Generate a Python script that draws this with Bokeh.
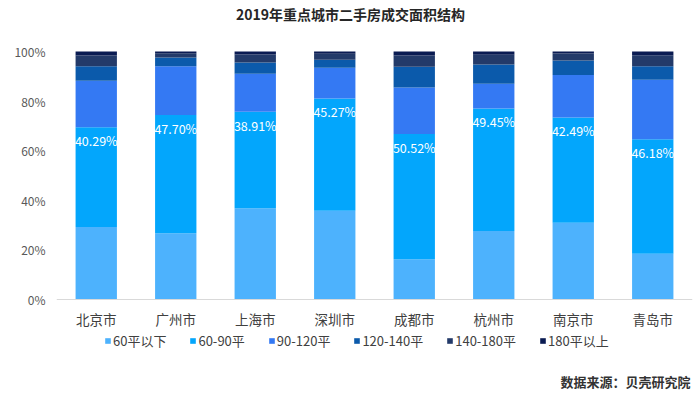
from bokeh.plotting import figure
from bokeh.models import (ColumnDataSource, FactorRange, Legend, LegendItem, Label,
                          FixedTicker, Range1d)
from bokeh.core.properties import value
from bokeh.embed import file_html
from bokeh.resources import INLINE

cities = ["北京市", "广州市", "上海市", "深圳市", "成都市", "杭州市", "南京市", "青岛市"]
series_names = ["60平以下", "60-90平", "90-120平", "120-140平", "140-180平", "180平以上"]
s_lt60 = [29.2, 26.7, 36.8, 35.8, 16.2, 27.6, 30.9, 18.4]
s_60_90 = [40.29, 47.70, 38.91, 45.27, 50.52, 49.45, 42.49, 46.18]
s_90_120 = [18.7, 19.7, 15.3, 12.4, 18.8, 9.9, 17.1, 24.0]
s_120_140 = [5.9, 3.5, 4.6, 3.2, 8.3, 7.8, 5.9, 5.5]
s_140_180 = [4.3, 1.7, 3.2, 2.4, 4.6, 3.9, 2.8, 4.4]
s_180_up = [1.6, 0.7, 1.2, 0.93, 1.58, 1.35, 0.81, 1.52]
label_texts = ["40.29%", "47.70%", "38.91%", "45.27%", "50.52%", "49.45%", "42.49%", "46.18%"]
y_ticks = [0, 20, 40, 60, 80, 100]
y_tick_labels = ["0%", "20%", "40%", "60%", "80%", "100%"]

colors = ["#4db2fd", "#03a6fc", "#3479f3", "#0b5aab", "#233a69", "#0a1b52"]
keys = ["s0", "s1", "s2", "s3", "s4", "s5"]
FONT = "Noto Sans CJK SC"

W, H = 700, 394
LEFT, RIGHT = 56, 8
Y0_PX, Y100_PX = 299, 51          # pixel rows of 0% and 100%
per_px = 100.0 / (Y0_PX - Y100_PX)

source = ColumnDataSource(dict(city=cities, s0=s_lt60, s1=s_60_90, s2=s_90_120,
                               s3=s_120_140, s4=s_140_180, s5=s_180_up))

p = figure(width=W, height=H, x_range=FactorRange(*cities),
           y_range=Range1d(-(H - Y0_PX) * per_px, 100 + Y100_PX * per_px),
           output_backend="svg", toolbar_location=None,
           min_border_left=LEFT, min_border_right=RIGHT, min_border_top=0, min_border_bottom=0)
p.outline_line_color = None
p.xgrid.visible = False
p.ygrid.visible = False

rs = p.vbar_stack(keys, x="city", width=0.52, color=colors, line_color=None, source=source)

# data labels for 60-90 segment
lbl_y = [a + b for a, b in zip(s_lt60, s_60_90)]
lsrc = ColumnDataSource(dict(x=cities, y=lbl_y, t=label_texts))
p.text(x="x", y="y", text="t", source=lsrc, text_color="white", text_align="center",
       text_baseline="top", y_offset=4, text_font=value(FONT), text_font_size="12.5px")

# axes
p.yaxis.ticker = FixedTicker(ticks=y_ticks)
p.yaxis.major_label_overrides = {t: l for t, l in zip(y_ticks, y_tick_labels)}
p.yaxis.axis_line_color = None
p.yaxis.major_tick_line_color = None
p.yaxis.minor_tick_line_color = None
p.yaxis.major_label_text_font = FONT
p.yaxis.major_label_text_font_size = "12px"
p.yaxis.major_label_text_color = "#595959"
p.yaxis.major_label_standoff = 5

p.xaxis.fixed_location = 0
p.xaxis.axis_line_color = "#d9d9d9"
p.xaxis.major_tick_line_color = None
p.xaxis.minor_tick_line_color = None
p.xaxis.major_label_text_font = FONT
p.xaxis.major_label_text_font_size = "13.5px"
p.xaxis.major_label_text_color = "#404040"
p.xaxis.major_label_standoff = 3

legend = Legend(items=[LegendItem(label=n, renderers=[r]) for n, r in zip(series_names, rs)],
                orientation="horizontal", location=(48, 44),
                label_text_font=FONT, label_text_font_size="13px", label_text_color="#404040",
                glyph_width=7, glyph_height=7, label_standoff=2, spacing=23,
                border_line_color=None, background_fill_alpha=0, padding=0, margin=0)
p.add_layout(legend)

title = Label(x=294, y=H - 13, x_units="screen", y_units="screen",
              text="2019年重点城市二手房成交面积结构", text_align="center", text_baseline="middle",
              text_font=FONT, text_font_size="14px", text_font_style="bold", text_color="#262626")
p.add_layout(title)
src = Label(x=W - LEFT - 10, y=13, x_units="screen", y_units="screen",
            text="数据来源：贝壳研究院", text_align="right", text_baseline="middle",
            text_font=FONT, text_font_size="13px", text_font_style="bold", text_color="#333333")
p.add_layout(src)

open("out.html", "w").write(file_html(p, INLINE))
